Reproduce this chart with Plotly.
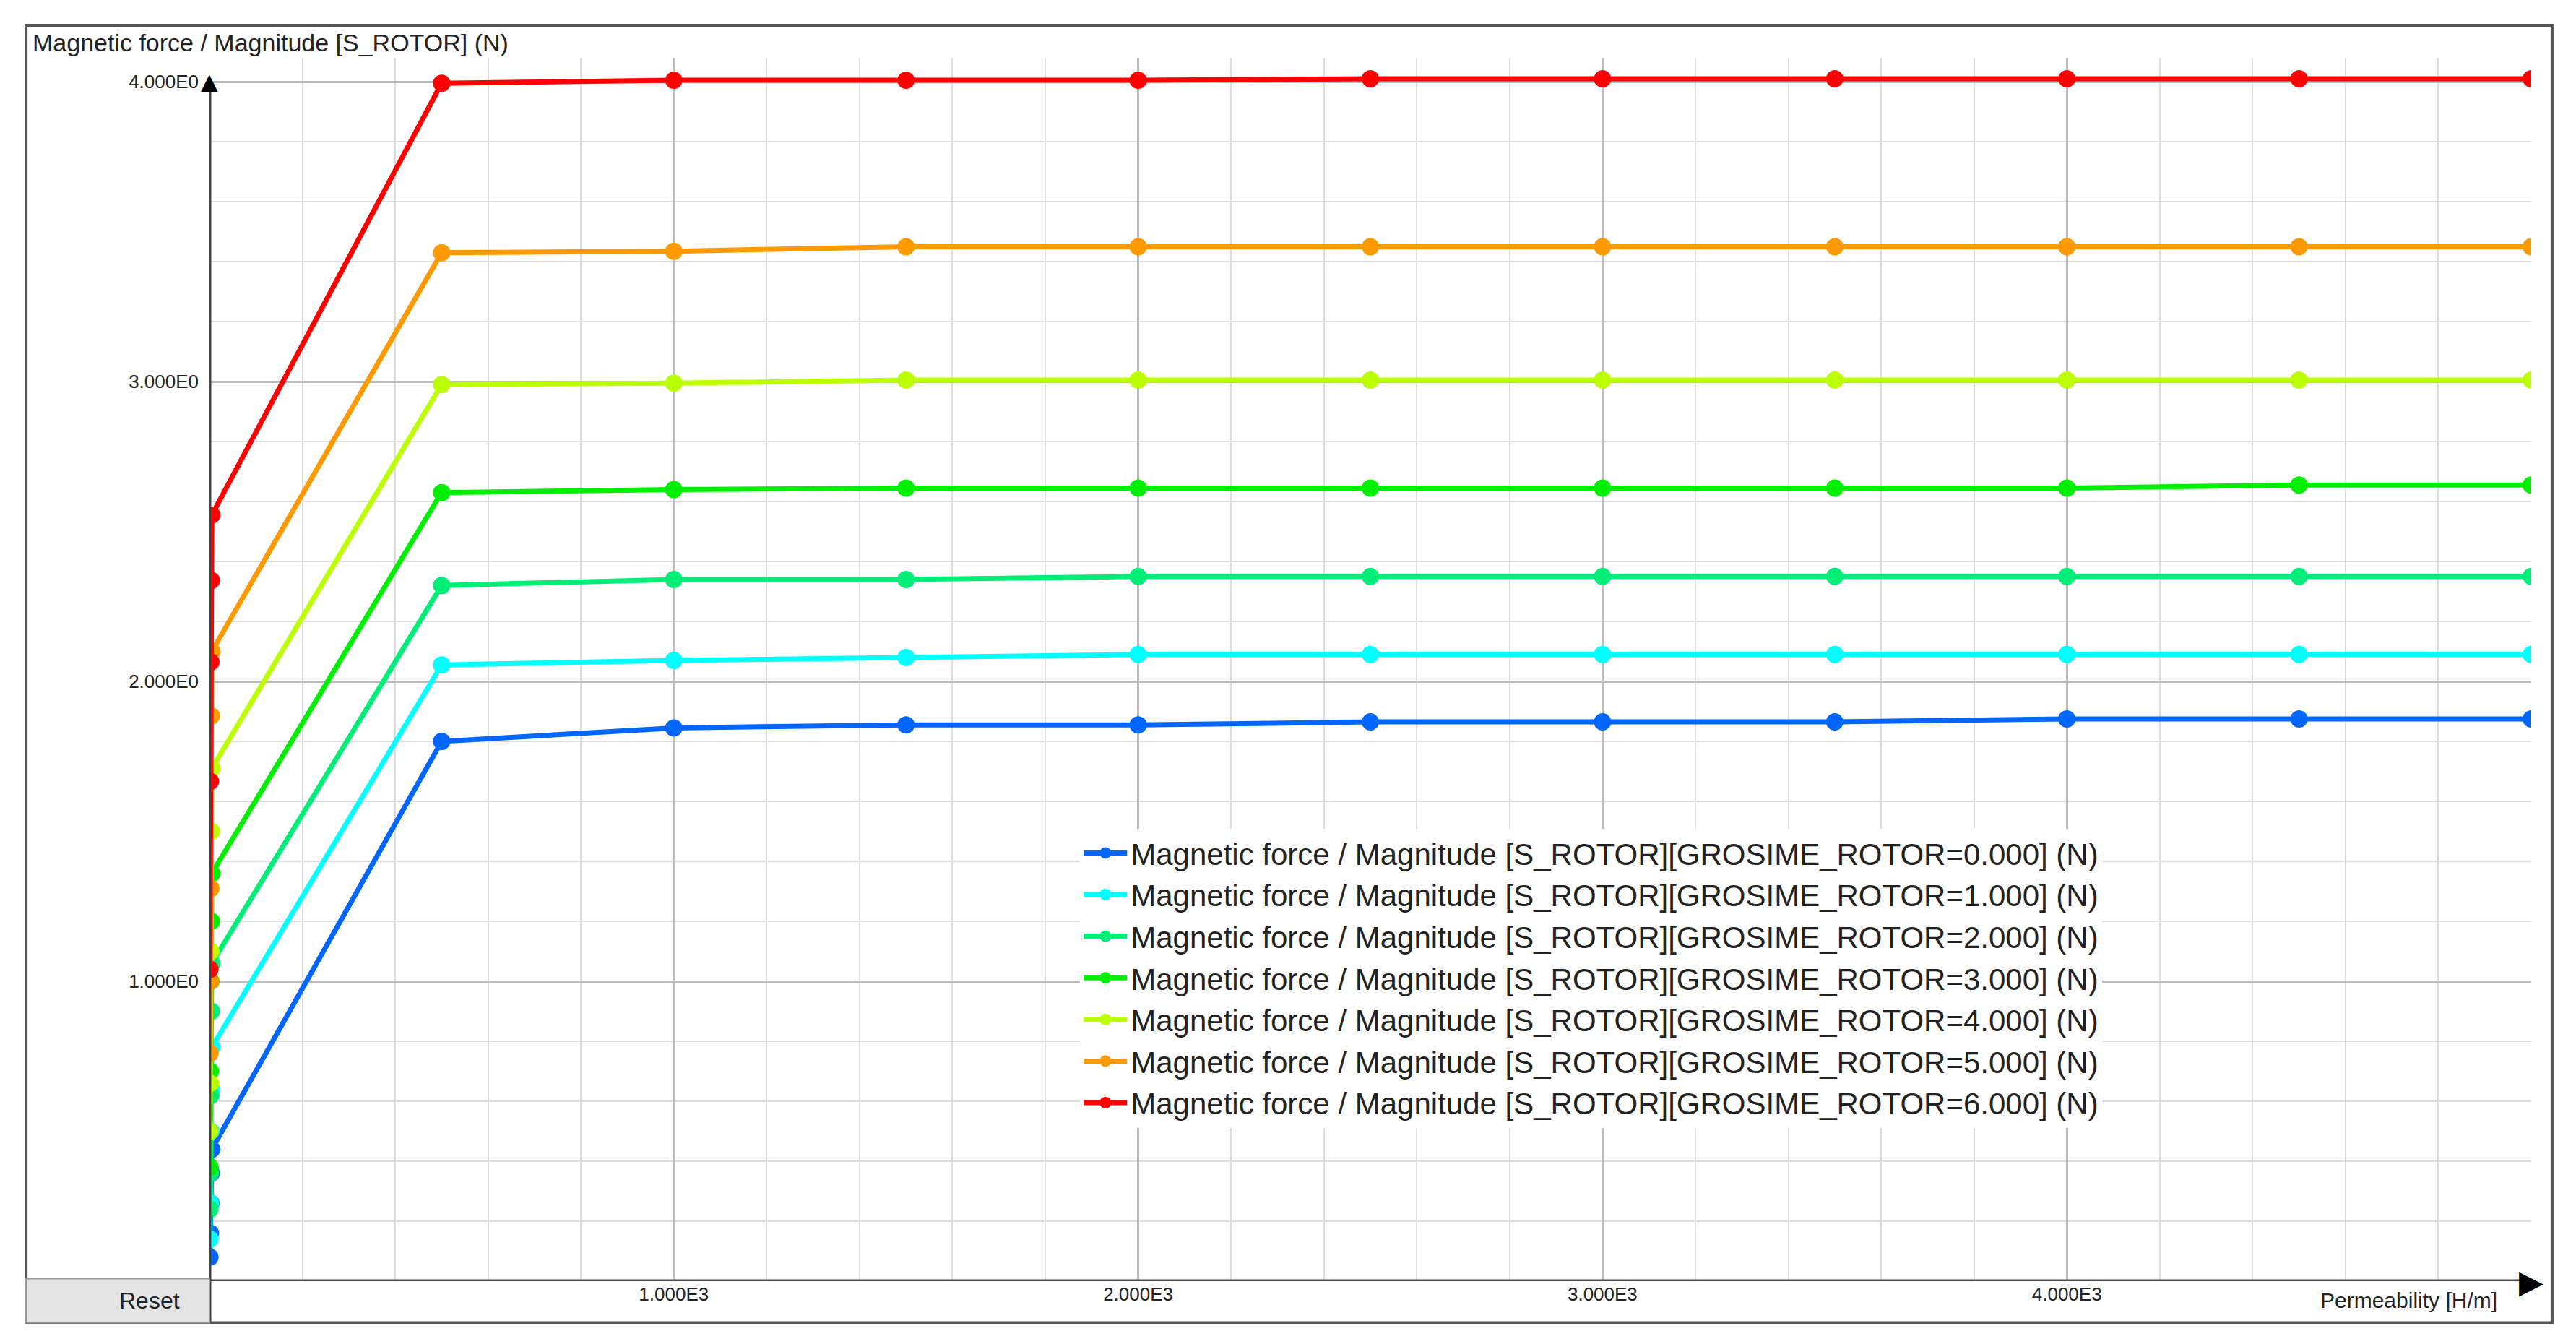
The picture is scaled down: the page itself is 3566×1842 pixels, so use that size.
import plotly.graph_objects as go

x_vals = [1, 2, 3, 4, 5, 500, 1000, 1500, 2000, 2500, 3000, 3500, 4000, 4500, 5000]
series_names = [f"Magnetic force / Magnitude [S_ROTOR][GROSIME_ROTOR={k}.000] (N)" for k in range(7)]
colors = ["#0066ff", "#00ffff", "#00ee77", "#00ee00", "#bbff00", "#ff9900", "#ff0000"]
s0 = [0.08, 0.16, 0.26, 0.36, 0.44, 1.80, 1.845, 1.855, 1.855, 1.865, 1.865, 1.865, 1.875, 1.875, 1.875]
s1 = [0.14, 0.26, 0.50, 0.64, 0.78, 2.055, 2.07, 2.08, 2.09, 2.09, 2.09, 2.09, 2.09, 2.09, 2.09]
s2 = [0.24, 0.36, 0.62, 0.90, 1.06, 2.32, 2.34, 2.34, 2.35, 2.35, 2.35, 2.35, 2.35, 2.35, 2.35]
s3 = [0.38, 0.70, 1.00, 1.20, 1.36, 2.63, 2.64, 2.645, 2.645, 2.645, 2.645, 2.645, 2.645, 2.655, 2.655]
s4 = [0.50, 0.66, 1.10, 1.50, 1.71, 2.99, 2.995, 3.005, 3.005, 3.005, 3.005, 3.005, 3.005, 3.005, 3.005]
s5 = [0.76, 1.00, 1.31, 1.885, 2.10, 3.43, 3.435, 3.45, 3.45, 3.45, 3.45, 3.45, 3.45, 3.45, 3.45]
s6 = [1.04, 1.667, 2.065, 2.337, 2.555, 3.995, 4.005, 4.005, 4.005, 4.01, 4.01, 4.01, 4.01, 4.01, 4.01]
series = [s0, s1, s2, s3, s4, s5, s6]

x_tickvals = [1000, 2000, 3000, 4000]
x_ticktext = ["1.000E3", "2.000E3", "3.000E3", "4.000E3"]
y_tickvals = [1, 2, 3, 4]
y_ticktext = ["1.000E0", "2.000E0", "3.000E0", "4.000E0"]

fig = go.Figure()
for name, c, ys in zip(series_names, colors, series):
    fig.add_trace(go.Scatter(x=x_vals, y=ys, mode="lines+markers", name=name,
                             line=dict(color=c, width=7), marker=dict(color=c, size=24)))

fig.update_layout(
    width=3566, height=1842,
    margin=dict(l=282, r=70, t=72, b=77),
    paper_bgcolor="white", plot_bgcolor="white",
    font=dict(family="Liberation Sans, Arial", color="#222"),
    showlegend=True,
    legend=dict(x=0.375, y=0.37, xanchor="left", yanchor="top", bgcolor="white",
                font=dict(size=42), itemwidth=60),
    xaxis=dict(range=[0, 5000], tickvals=x_tickvals, ticktext=x_ticktext,
               tickfont=dict(size=26), showgrid=True, gridcolor="#bbbbbb", gridwidth=3,
               minor=dict(dtick=200, showgrid=True, gridcolor="#dddddd", gridwidth=2),
               zeroline=False, showline=False, ticks=""),
    yaxis=dict(range=[0, 4.08], tickvals=y_tickvals, ticktext=y_ticktext,
               tickfont=dict(size=26), showgrid=True, gridcolor="#bbbbbb", gridwidth=3,
               minor=dict(dtick=0.2, showgrid=True, gridcolor="#dddddd", gridwidth=2),
               zeroline=False, showline=False, ticks="", ticklabelstandoff=14),
    shapes=[
        dict(type="rect", xref="paper", yref="paper", x0=-0.079, x1=1.009, y0=-0.034, y1=1.0266,
             line=dict(color="#555", width=4)),
        dict(type="line", xref="x", yref="y", x0=0, x1=5000, y0=0, y1=0, line=dict(color="#444", width=5)),
        dict(type="line", xref="x", yref="paper", x0=0, x1=0, y0=-0.034, y1=0.975, line=dict(color="#444", width=5)),
        dict(type="rect", xref="paper", yref="paper", x0=-0.079, x1=0.0, y0=-0.034, y1=0.002,
             fillcolor="#e4e4e4", line=dict(color="#999", width=2)),
    ],
    annotations=[
        dict(text="Magnetic force / Magnitude [S_ROTOR] (N)", xref="paper", yref="paper", x=-0.077, y=1.0,
             xanchor="left", yanchor="bottom", showarrow=False, font=dict(size=34)),
        dict(text="▲", xref="x", yref="y", x=0, y=4.0, showarrow=False, yanchor="middle",
             font=dict(size=40, color="black")),
        dict(text="▶", xref="x", yref="y", x=5000, y=0, showarrow=False, font=dict(size=44, color="black")),
        dict(text="Permeability [H/m]", xref="x", yref="paper", x=4930, y=-0.005, xanchor="right",
             yanchor="top", showarrow=False, font=dict(size=30)),
        dict(text="Reset", xref="paper", yref="paper", x=-0.0395, y=-0.016, yanchor="middle",
             showarrow=False, font=dict(size=32)),
    ],
)
fig.write_html("out.html")
